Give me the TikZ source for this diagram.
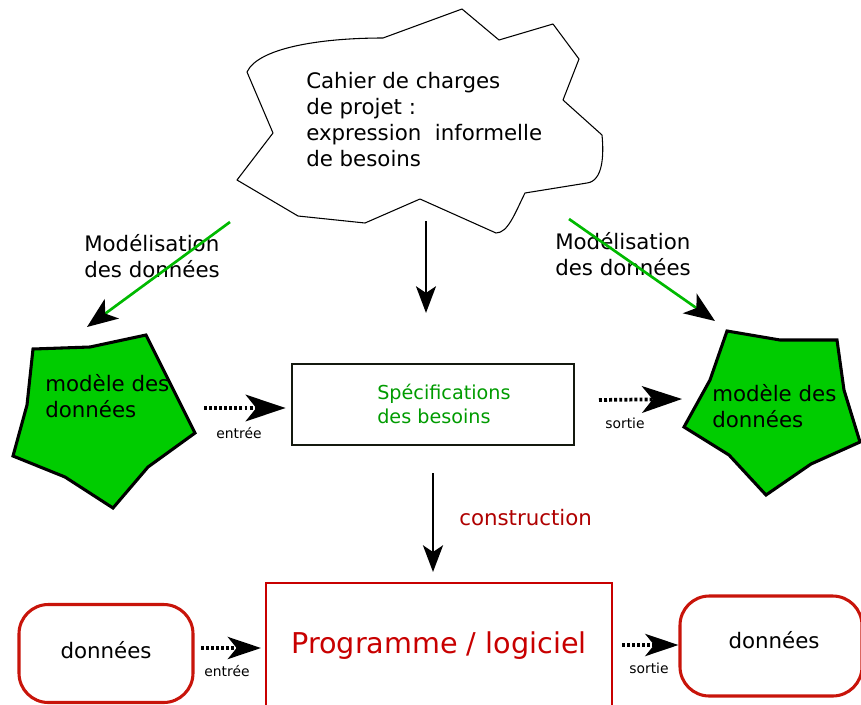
\documentclass[tikz,border=0pt]{standalone}
\usepackage{fontspec}
\setmainfont{DejaVu Sans}
\usetikzlibrary{arrows.meta}
\definecolor{modelgreen}{RGB}{0,204,0}
\definecolor{linegreen}{RGB}{0,185,0}
\definecolor{specgreen}{RGB}{0,155,0}
\definecolor{specborder}{RGB}{20,25,15}
\definecolor{darkred}{RGB}{175,0,0}
\definecolor{progred}{RGB}{200,0,0}
\definecolor{boxred}{RGB}{200,20,10}

\begin{document}
\begin{tikzpicture}
[x=0.75pt,y=-0.75pt,>={Stealth[length=20pt,width=15pt,inset=5pt]},
 txt/.style={inner sep=0pt,anchor=base west,align=left,font=\fontsize{16}{19.3}\selectfont},
 small/.style={inner sep=0pt,anchor=base,font=\fontsize{10.4}{12}\selectfont},
 model/.style={draw=black,line width=2.3pt,fill=modelgreen},
 databox/.style={draw=boxred,line width=2.3pt,rounded corners=22pt,inner sep=0pt},
 blackarrow/.style={line width=1.9pt,->},
 greenarrow/.style={draw=linegreen,line width=2pt,-{Stealth[length=23pt,width=18pt,inset=6pt,black]}},
 dotarrow/.style={line width=2.8pt,dash pattern=on 2.2pt off 1.6pt,-{Stealth[length=30pt,width=20pt,inset=8pt,scale=#1]}},
 dotarrow/.default=1]
\useasboundingbox (0,0) rectangle (861,704);

% cloud
\draw [line width=0.8pt,line join=round] (247,72) .. controls (258,48) and (320,38) .. (383,38)
  -- (462,9) -- (499,40) -- (553,24) -- (579,59) -- (563,100) -- (602,135)
  .. controls (604,155) and (603,181) .. (587,183) -- (525,193)
  .. controls (515,213) and (508,233) .. (496,233) -- (420,199) -- (365,223)
  -- (298,216) -- (237,180) -- (273,133) -- cycle;
\node [txt] (cahier) at (306,166) {Cahier de charges\\de projet :\\expression\ \ informelle\\de besoins};

% models
\draw [model] (33,349) -- (90,347) -- (146,335) -- (195,433) -- (148,467) -- (113,508)
  -- (65,477) -- (13,456) -- (27,405) -- cycle;
\node [txt] (modelL) at (45,417) {modèle des\\données};
\draw [model] (727,331) -- (780,340) -- (837,340) -- (844,390) -- (860,442) -- (811,464)
  -- (766,495) -- (729,455) -- (684,427) -- (710,380) -- cycle;
\node [txt] (modelR) at (712,427) {modèle des\\données};

% nodes
\node [txt] (modL) at (84,277) {Modélisation\\des données};
\node [txt] (modR) at (555,275) {Modélisation\\des données};
\node [draw=specborder, line width=1.6pt, minimum width=211.5pt, minimum height=60.75pt] (spec) at (433,404.5) {};
\node [txt, font=\fontsize{14.4}{17.3}\selectfont, text=specgreen] (spectxt) at (377,423) {Spécifications\\des besoins};
\node [txt, text=darkred] (constr) at (459,525) {construction};
\node [draw=progred, line width=1.5pt, minimum width=259.5pt, minimum height=94.5pt, text=progred,
  font=\fontsize{21.5}{26}\selectfont] (prog) at (439,646) {Programme / logiciel};
\node [databox, minimum width=130.5pt, minimum height=73.5pt] (dataL) at (106,653.5) {};
\node [txt, anchor=base] (dataLtxt) at (106,658) {données};
\node [databox, minimum width=136.5pt, minimum height=75pt] (dataR) at (771,646) {};
\node [txt, anchor=base] (dataRtxt) at (774,648) {données};

% small labels
\node [small] (inL) at (239,438) {entrée};
\node [small] (outR) at (625,428) {sortie};
\node [small] (inB) at (227,676) {entrée};
\node [small] (outB) at (649,673) {sortie};

% coordinates
\coordinate (c1) at (426,221);
\coordinate (c3) at (433,473);
\coordinate (g1) at (230,222);
\coordinate (g2) at (87,327);
\coordinate (g3) at (569,219);
\coordinate (g4) at (715,321);
\coordinate (d1) at (204,408);
\coordinate (d3) at (599,400);
\coordinate (d4) at (682,399);
\coordinate (d5) at (201,648);
\coordinate (d7) at (622,645);

% arrows
\draw [blackarrow, shorten >=37.5pt] (c1) -- (c1 |- spec.north);
\draw [blackarrow, shorten >=7.5pt] (c3) -- (c3 |- prog.north);
\draw [greenarrow] (g1) -- (g2);
\draw [greenarrow] (g3) -- (g4);
\draw [dotarrow, shorten >=4pt] (d1) -- (d1 -| spec.west);
\draw [dotarrow] (d3) -- (d4);
\draw [dotarrow=0.83, shorten >=3pt] (d5) -- (d5 -| prog.west);
\draw [dotarrow=0.83] (d7) -- (d7 -| dataR.west);

\end{tikzpicture}
\end{document}
